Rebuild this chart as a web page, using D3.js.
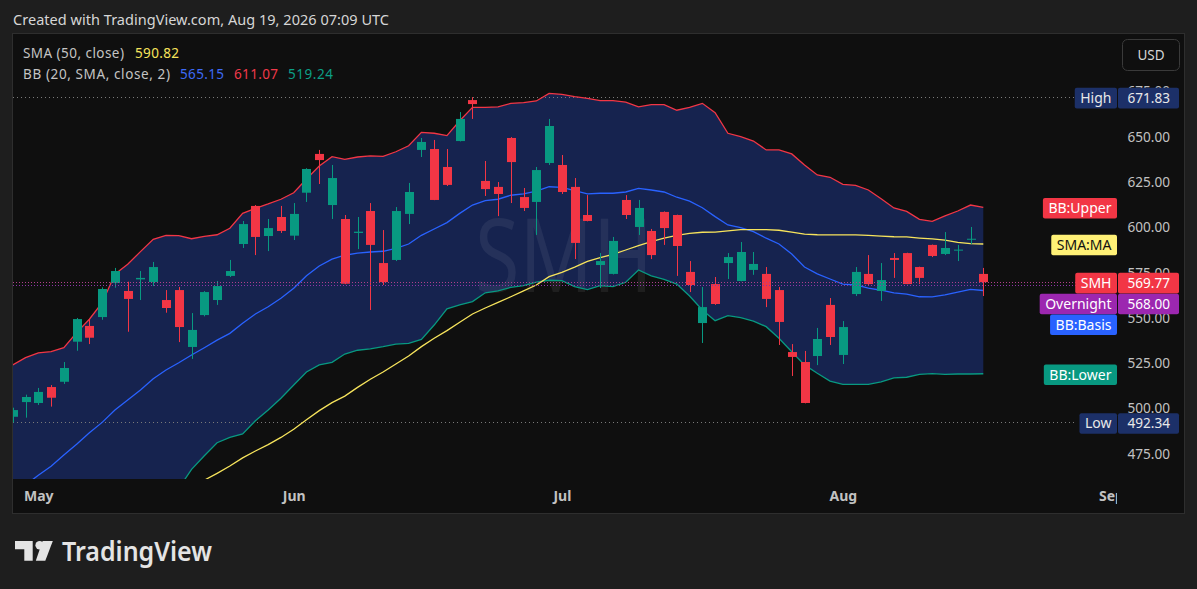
<!DOCTYPE html>
<html><head><meta charset="utf-8">
<script src="https://cdn.jsdelivr.net/npm/d3@7"></script>
<style>
html,body{margin:0;padding:0;background:#1e1e1e;overflow:hidden}
svg{display:block}
text{font-family:"Noto Sans",sans-serif}
</style></head><body>
<svg id="c" width="1197" height="589"></svg>
<script>
// ---------- DATA ----------
const dates = ["2026-04-29","2026-04-30",
"2026-05-01","2026-05-04","2026-05-05","2026-05-06","2026-05-07","2026-05-08","2026-05-11","2026-05-12","2026-05-13","2026-05-14","2026-05-15","2026-05-18","2026-05-19","2026-05-20","2026-05-21","2026-05-22","2026-05-26","2026-05-27","2026-05-28","2026-05-29",
"2026-06-01","2026-06-02","2026-06-03","2026-06-04","2026-06-05","2026-06-08","2026-06-09","2026-06-10","2026-06-11","2026-06-12","2026-06-15","2026-06-16","2026-06-17","2026-06-18","2026-06-22","2026-06-23","2026-06-24","2026-06-25","2026-06-26","2026-06-29","2026-06-30",
"2026-07-01","2026-07-02","2026-07-06","2026-07-07","2026-07-08","2026-07-09","2026-07-10","2026-07-13","2026-07-14","2026-07-15","2026-07-16","2026-07-17","2026-07-20","2026-07-21","2026-07-22","2026-07-23","2026-07-24","2026-07-27","2026-07-28","2026-07-29","2026-07-30","2026-07-31",
"2026-08-03","2026-08-04","2026-08-05","2026-08-06","2026-08-07","2026-08-10","2026-08-11","2026-08-12","2026-08-13","2026-08-14","2026-08-17","2026-08-18"];
const futureDates = ["2026-08-19","2026-08-20","2026-08-21","2026-08-24","2026-08-25","2026-08-26","2026-08-27","2026-08-28","2026-08-31","2026-09-01"];

const open  = [495.5,503.6,503.1,511.9,514.8,536.9,545.6,550.5,569.3,564.9,571.3,569.8,559.9,565.4,534.0,551.6,559.9,573.2,590.8,611.8,595.2,605.7,595.4,619.1,640.5,612.3,604.6,596.9,609.0,580.3,582.0,607.4,642.7,643.2,633.3,647.6,670.2,625.6,622.3,649.3,616.7,614.0,635.5,634.4,622.3,606.8,579.2,574.3,615.1,600.2,598.0,608.5,606.8,575.4,547.2,568.7,580.3,570.4,576.5,574.3,565.4,531.2,525.7,529.0,557.2,529.6,563.2,574.3,564.9,583.1,585.8,578.1,590.3,585.3,587.3,593.4,574.3];
const high  = [500.5,507.7,511.4,513.0,525.7,550.0,549.3,566.9,577.6,570.0,575.9,580.9,565.4,567.1,552.7,564.8,570.4,582.0,603.5,612.3,604.6,611.8,613.4,632.6,642.7,634.4,606.8,605.7,613.4,598.5,611.2,624.5,649.3,648.2,643.2,663.6,671.83,636.6,625.0,649.8,621.7,633.3,659.8,639.9,627.2,617.8,585.8,594.7,617.8,615.1,599.1,608.8,607.0,581.4,567.1,572.6,585.8,591.9,586.4,578.1,567.1,535.6,531.8,544.5,561.0,548.3,578.1,584.7,580.3,585.8,586.0,578.3,590.5,597.4,590.3,600.2,577.6];
const low   = [492.34,495.0,502.0,501.1,513.6,531.9,535.6,549.0,566.7,542.4,559.9,567.6,552.9,536.7,527.4,550.9,557.2,572.6,588.6,584.7,586.9,596.9,593.0,614.0,623.9,604.6,568.6,588.0,554.4,568.2,581.4,601.8,638.8,615.0,622.8,647.4,659.8,617.3,606.2,613.4,609.0,595.8,634.4,618.4,582.5,603.3,566.5,574.0,604.6,595.8,582.5,590.3,573.2,564.3,536.2,557.2,571.5,570.2,573.8,556.0,535.1,518.0,502.9,524.0,535.1,524.6,562.1,568.2,559.4,572.1,568.6,568.7,583.6,584.7,581.4,590.8,562.1];
const close = [499.2,506.4,509.2,506.0,522.4,549.4,539.1,566.0,575.9,560.5,572.1,578.1,555.5,545.0,543.4,564.3,567.6,575.9,601.8,594.7,599.6,598.0,607.4,632.2,637.1,627.2,568.9,597.6,590.3,569.8,609.0,619.5,647.1,615.1,623.4,659.8,668.0,621.1,618.4,636.0,610.7,631.6,655.9,619.5,591.4,603.5,581.4,592.5,606.8,610.7,584.7,599.6,589.7,568.2,556.0,557.7,583.6,586.4,579.8,560.5,547.8,528.5,503.1,538.4,539.5,545.0,575.4,568.7,570.9,582.0,568.7,572.1,584.2,588.6,587.7,593.7,569.77];

const bbUpper = [524.1,528.1,530.8,531.4,533.6,541.9,549.3,558.4,574.1,579.6,586.6,593.4,595.6,595.4,593.7,595.0,595.9,599.5,607.7,610.5,612.9,615.5,619.1,626.7,633.8,639.0,637.5,638.8,639.4,639.2,641.7,645.0,652.4,651.9,650.6,658.8,666.2,666.2,666.5,668.4,668.8,669.7,673.9,673.4,672.1,671.2,669.9,669.9,669.1,666.5,667.7,667.7,664.6,666.2,668.4,663.2,651.9,650.0,647.6,642.7,642.7,640.5,634.4,628.9,627.6,623.7,623.2,620.6,615.8,610.7,608.8,604.4,603.3,606.3,609.0,612.3,611.07];
const bbBasis = [452.9,457.9,463.2,468.2,474.4,480.3,486.7,492.4,499.2,504.7,510.3,516.5,521.3,525.3,529.6,533.6,537.8,541.5,547.1,552.2,556.2,560.9,566.4,573.3,578.7,582.5,584.6,585.8,586.4,586.8,588.4,590.8,595.6,599.1,602.6,607.7,612.3,614.7,615.5,617.7,618.4,620.0,622.4,622.1,620.2,618.5,618.8,618.8,619.5,621.5,620.6,619.5,616.6,614.5,610.8,605.9,601.3,599.8,597.6,594.0,590.8,585.3,578.1,574.3,571.5,568.7,568.2,566.5,565.3,563.9,563.2,561.7,561.6,562.7,564.3,565.8,565.15];
const bbLower = [381.7,387.7,395.6,405.0,415.2,418.7,424.1,426.4,424.3,429.8,434.0,439.6,447.0,456.0,466.5,474.0,481.2,484.1,486.0,493.3,499.2,505.7,513.0,520.2,524.1,525.5,530.1,532.2,533.0,534.2,535.6,536.0,538.2,546.1,555.0,557.2,559.0,563.9,564.9,566.9,567.8,569.8,570.8,570.6,567.3,565.6,567.8,567.3,569.7,576.5,573.2,571.3,568.7,562.1,554.4,548.5,551.3,550.2,548.3,545.2,538.8,531.4,524.1,519.5,515.2,513.4,513.4,513.4,514.8,517.0,517.3,518.9,519.3,518.9,519.1,519.1,519.24];
const sma50   = [408.5,411.6,414.8,418.0,421.2,424.6,428.0,431.5,435.0,438.5,442.0,445.7,449.3,453.0,456.7,460.5,464.3,468.3,472.8,476.6,480.1,484.1,488.6,493.9,498.9,503.3,506.9,511.7,516.2,520.2,524.6,529.0,534.2,538.8,543.0,547.6,552.2,555.5,558.6,561.7,564.9,568.2,572.8,575.2,578.0,581.2,583.3,585.1,587.5,589.9,592.1,594.0,595.6,596.7,597.3,597.4,598.1,598.7,598.7,598.7,598.4,597.4,596.3,595.9,595.8,595.8,595.8,595.6,595.2,594.8,594.7,594.1,593.6,593.0,591.7,591.0,590.82];

const priceTicks = [475,500,525,550,575,600,625,650,675];
const monthTickDates = ["2026-05-01","2026-06-01","2026-07-01","2026-08-03","2026-09-01"];
const monthLabels = ["May","Jun","Jul","Aug","Sep"];

const symbol = "SMH";
const lastPrice = 569.77;
const overnightPrice = 568.00;
const rangeHigh = 671.83;
const rangeLow = 492.34;
const headerText = "Created with TradingView.com, Aug 19, 2026 07:09 UTC";
const smaLegend = "SMA (50, close)";
const bbLegend = "BB (20, SMA, close, 2)";

// ---------- LAYOUT ----------
const W = 1197, H = 589;
const frame = {l:13, r:1184, t:34, b:513};
const pane = {l:13, r:1117, t:34, b:479};
const C = {up:"#089981", down:"#f23645", upper:"#f23645", basis:"#2962ff", lower:"#089981", sma:"#f7e45c",
  fill:"#16234f", bg:"#0f0f0f", outer:"#1e1e1e", axisText:"#c2c2c2", navy:"#1c3068"};

const svg = d3.select("#c");
svg.append("rect").attr("width",W).attr("height",H).attr("fill",C.outer);
svg.append("rect").attr("x",frame.l-0.5).attr("y",frame.t-0.5).attr("width",frame.r-frame.l+1).attr("height",frame.b-frame.t+1)
  .attr("fill",C.bg).attr("stroke","#2e2e2e").attr("stroke-width",1);

const allDates = dates.concat(futureDates);
const step = 12.77;
const x = d3.scalePoint().domain(allDates).range([12.77, 12.77 + step*(allDates.length-1)]);
const y = d3.scaleLinear().domain([475,650]).range([136.7 + 175*1.8127, 136.7]);

const defs = svg.append("defs");
defs.append("clipPath").attr("id","paneClip").append("rect")
  .attr("x",pane.l).attr("y",pane.t).attr("width",pane.r-pane.l).attr("height",pane.b-pane.t);
defs.append("clipPath").attr("id","timeClip").append("rect")
  .attr("x",pane.l).attr("y",pane.b).attr("width",pane.r-pane.l).attr("height",frame.b-pane.b);

const g = svg.append("g").attr("clip-path","url(#paneClip)");

// BB fill
const idx = d3.range(dates.length);
g.append("path").datum(idx)
  .attr("d", d3.area().x(i=>x(dates[i])).y0(i=>y(bbLower[i])).y1(i=>y(bbUpper[i])))
  .attr("fill",C.fill);

// watermark
g.append("text").attr("x",564).attr("y",292).attr("text-anchor","middle")
  .attr("font-size",102).attr("textLength",178).attr("lengthAdjust","spacingAndGlyphs")
  .attr("fill","rgba(255,255,255,0.065)").text(symbol);

// High/Low dotted lines
[[rangeHigh,"#7a7a7a"],[rangeLow,"#7a7a7a"]].forEach(([v,col])=>{
  g.append("line").attr("x1",pane.l).attr("x2",1077).attr("y1",Math.round(y(v))+0.5).attr("y2",Math.round(y(v))+0.5)
   .attr("stroke",col).attr("stroke-width",1).attr("stroke-dasharray","1,3");
});

// indicator lines
const line = arr => d3.line().x(i=>x(dates[i])).y(i=>y(arr[i]));
[[bbUpper,C.upper],[bbLower,C.lower],[bbBasis,C.basis],[sma50,C.sma]].forEach(([arr,col])=>{
  g.append("path").datum(idx).attr("d",line(arr)).attr("fill","none").attr("stroke",col).attr("stroke-width",1.3);
});

// candles
const bw = 9;
const cg = g.append("g");
idx.forEach(i=>{
  const col = close[i] >= open[i] ? C.up : C.down;
  const cx = Math.round(x(dates[i]));
  cg.append("line").attr("x1",cx+0.5).attr("x2",cx+0.5).attr("y1",y(high[i])).attr("y2",y(low[i]))
    .attr("stroke",col).attr("stroke-width",1);
  const top = y(Math.max(open[i],close[i])), bot = y(Math.min(open[i],close[i]));
  cg.append("rect").attr("x",cx+0.5-bw/2).attr("y",top).attr("width",bw).attr("height",Math.max(1,bot-top)).attr("fill",col);
});

// last price / overnight dotted lines
[[lastPrice,"#b0408a"],[overnightPrice,"#8e35a8"]].forEach(([v,col])=>{
  g.append("line").attr("x1",pane.l).attr("x2",1077).attr("y1",Math.round(y(v))+0.5).attr("y2",Math.round(y(v))+0.5)
   .attr("stroke",col).attr("stroke-width",1).attr("stroke-dasharray","1,2");
});

// legend
const lg = svg.append("g").attr("font-size",13.5);
lg.append("text").attr("x",23).attr("y",58).attr("fill","#c4c4c4").attr("textLength",101).text(smaLegend);
lg.append("text").attr("x",135).attr("y",58).attr("fill",C.sma).attr("textLength",44).text(d3.format(".2f")(sma50[sma50.length-1]));
lg.append("text").attr("x",23).attr("y",79).attr("fill","#c4c4c4").attr("textLength",147).text(bbLegend);
lg.append("text").attr("x",180).attr("y",79).attr("fill","#3d6af5").attr("textLength",44).text(d3.format(".2f")(bbBasis[bbBasis.length-1]));
lg.append("text").attr("x",234).attr("y",79).attr("fill","#f0394a").attr("textLength",44).text(d3.format(".2f")(bbUpper[bbUpper.length-1]));
lg.append("text").attr("x",288).attr("y",79).attr("fill","#0c9f86").attr("textLength",45).text(d3.format(".2f")(bbLower[bbLower.length-1]));

// header
svg.append("text").attr("x",13).attr("y",25).attr("font-size",14.5).attr("fill","#d6d6d6")
  .attr("textLength",376).text(headerText);

// price axis
const ya = svg.append("g").attr("transform",`translate(${pane.r},0)`)
  .call(d3.axisRight(y).tickValues(priceTicks).tickFormat(d3.format(".2f")).tickSize(0).tickPadding(10.5));
ya.select(".domain").remove();
ya.selectAll("text").attr("fill",C.axisText).attr("font-family","'DejaVu Sans',sans-serif").attr("font-size",13.6);

// time axis
const xa = svg.append("g").attr("clip-path","url(#timeClip)").append("g").attr("transform",`translate(0,${pane.b})`)
  .call(d3.axisBottom(x).tickValues(monthTickDates).tickFormat((d,i)=>monthLabels[i]).tickSize(0).tickPadding(12.5));
xa.select(".domain").remove();
xa.selectAll("text").attr("fill",C.axisText).attr("font-size",14).attr("font-weight",700).attr("font-family","'Noto Sans',sans-serif");

// USD button
svg.append("rect").attr("x",1122.5).attr("y",39.5).attr("width",57).attr("height",31).attr("rx",5)
  .attr("fill",C.bg).attr("stroke","#3a3a3a");
svg.append("text").attr("x",1151).attr("y",60).attr("text-anchor","middle").attr("font-size",13.5).attr("fill","#d6d6d6").text("USD");

// right-side labels
const labels = [
  {name:"High", v:rangeHigh, bg:C.navy, fg:"#e8e8e8", value:true},
  {name:"BB:Upper", v:bbUpper[bbUpper.length-1], bg:C.upper, fg:"#ffffff"},
  {name:"SMA:MA", v:sma50[sma50.length-1], bg:"#fff176", fg:"#111111"},
  {name:symbol, v:lastPrice, bg:"#f23645", fg:"#ffffff", value:true},
  {name:"Overnight", v:overnightPrice, bg:"#9c27b0", fg:"#ffffff", value:true},
  {name:"BB:Basis", v:bbBasis[bbBasis.length-1], bg:C.basis, fg:"#ffffff"},
  {name:"BB:Lower", v:bbLower[bbLower.length-1], bg:C.lower, fg:"#ffffff"},
  {name:"Low", v:rangeLow, bg:C.navy, fg:"#e8e8e8", value:true}
];
const bh = 20.6;
let prev = -1e9;
labels.forEach(d=>{ let cy = y(d.v)+1; if (cy < prev + bh + 0.2) cy = prev + bh + 0.2; d.cy = cy; prev = cy; });
const lblG = svg.append("g");
labels.forEach(d=>{
  const t = lblG.append("text").attr("font-size",14).attr("fill",d.fg).text(d.name);
  const w = t.node().getComputedTextLength();
  const bx = pane.r - w - 11;
  lblG.insert("rect","text").attr("x",bx).attr("y",d.cy-bh/2).attr("width",pane.r-bx).attr("height",bh).attr("rx",2).attr("fill",d.bg);
  t.attr("x",bx+5.5).attr("y",d.cy+5);
  t.raise();
  if (d.value) {
    lblG.append("rect").attr("x",pane.r+1).attr("y",d.cy-bh/2).attr("width",61).attr("height",bh).attr("rx",2).attr("fill",d.bg);
    lblG.append("text").attr("x",pane.r+10.5).attr("y",d.cy+5).attr("font-size",13.6)
      .attr("font-family","'DejaVu Sans',sans-serif").attr("fill",d.fg).text(d3.format(".2f")(d.v));
  }
});

// TradingView logo
const logo = svg.append("g").attr("fill","#e4e4e4");
logo.append("path").attr("d","M15,541 H32.7 V560.7 H24.3 V549.3 H15 Z");
logo.append("circle").attr("cx",39.6).attr("cy",545.2).attr("r",4.2);
logo.append("path").attr("d","M42.6,541 H52.8 L45.3,560.7 H35.8 Z");
logo.append("text").attr("x",62).attr("y",560.5).attr("font-size",26.5).attr("font-weight",600)
  .attr("font-family","Inter,'Noto Sans',sans-serif").attr("textLength",150).attr("lengthAdjust","spacingAndGlyphs").text("TradingView");
</script>
</body></html>
